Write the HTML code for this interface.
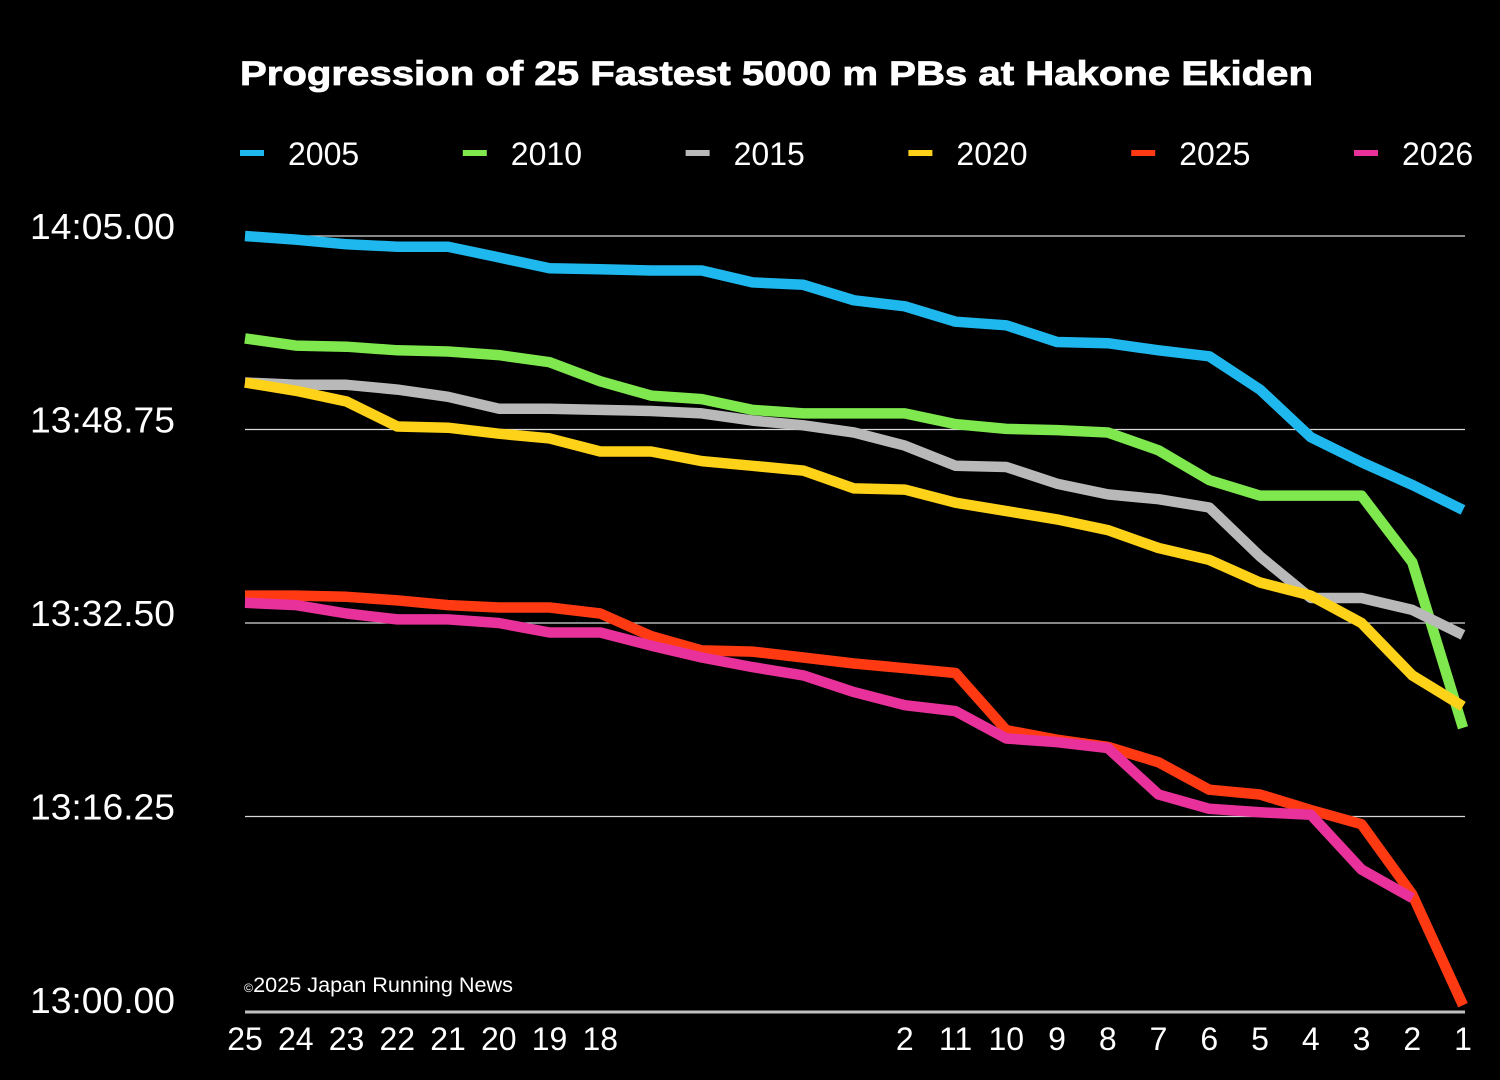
<!DOCTYPE html>
<html><head><meta charset="utf-8"><style>
html,body{margin:0;padding:0;background:#000;}
svg{display:block;font-family:"Liberation Sans",sans-serif;}
</style></head><body>
<svg id="chart" width="1500" height="1080" viewBox="0 0 1500 1080">
<rect width="1500" height="1080" fill="#000"/>
<text x="240" y="85" fill="#fff" font-size="34" font-weight="bold" stroke="#fff" stroke-width="0.8" textLength="1073" lengthAdjust="spacingAndGlyphs">Progression of 25 Fastest 5000 m PBs at Hakone Ekiden</text>
<g id="legend"></g>
<g id="grid"></g>
<g id="series"></g>
<g id="xaxis"></g>
<text x="244" y="992" fill="#fff" font-size="21" textLength="269" lengthAdjust="spacingAndGlyphs"><tspan font-size="12">©</tspan>2025 Japan Running News</text>
</svg>
<script>
// ranks 25 -> 1 ; values = seconds above 13:00.00
const ranks = ["25","24","23","22","21","20","19","18","17","16","15","14","13","12","11","10","9","8","7","6","5","4","3","2","1"];
const xTickLabels = ["25","24","23","22","21","20","19","18","","","","","","2","11","10","9","8","7","6","5","4","3","2","1"];
const yTicks = [0, 16.25, 32.5, 48.75, 65];
const yTickLabels = ["13:00.00","13:16.25","13:32.50","13:48.75","14:05.00"];
const seriesNames = ["2005","2010","2015","2020","2025","2026"];
const seriesColors = ["#1fb8ee","#7ee84e","#b9b9b9","#ffd21a","#ff3a12","#e8319a"];
const s2005 = [65.0,64.7,64.3,64.1,64.1,63.2,62.3,62.2,62.1,62.1,61.1,60.9,59.6,59.1,57.8,57.5,56.1,56.0,55.4,54.9,52.1,48.1,46.0,44.1,42.0];
const s2010 = [56.4,55.8,55.7,55.4,55.3,55.0,54.4,52.8,51.6,51.3,50.4,50.1,50.1,50.1,49.2,48.8,48.7,48.5,47.0,44.5,43.2,43.2,43.2,37.6,23.7];
const s2015 = [52.7,52.5,52.5,52.1,51.5,50.5,50.5,50.4,50.3,50.1,49.5,49.1,48.5,47.4,45.7,45.6,44.2,43.3,42.9,42.2,38.1,34.6,34.6,33.6,31.5];
const s2020 = [52.7,52.0,51.1,49.0,48.9,48.4,48.0,46.9,46.9,46.1,45.7,45.3,43.8,43.7,42.6,41.9,41.2,40.3,38.8,37.8,35.9,34.8,32.5,28.1,25.5];
const s2025 = [34.8,34.8,34.7,34.4,34.0,33.8,33.8,33.3,31.4,30.2,30.1,29.6,29.1,28.7,28.3,23.5,22.7,22.1,20.8,18.5,18.1,16.8,15.6,9.7,0.4];
const s2026 = [34.2,34.0,33.3,32.8,32.8,32.5,31.7,31.7,30.6,29.6,28.8,28.1,26.7,25.6,25.1,22.8,22.5,22.0,18.1,16.9,16.6,16.4,11.8,9.4,null];
const allSeries = [s2005,s2010,s2015,s2020,s2025,s2026];

const NS="http://www.w3.org/2000/svg";
const X0=245, X1=1463, Y0=1010, Y1=236, VMAX=65;
function xs(i){return X0+(X1-X0)*i/(ranks.length-1);}
function ys(v){return Y0-(Y0-Y1)*v/VMAX;}
function mk(tag,attrs,parent){const e=document.createElementNS(NS,tag);for(const k in attrs)e.setAttribute(k,attrs[k]);parent.appendChild(e);return e;}

const grid=document.getElementById('grid');
yTicks.forEach((v,i)=>{
  if(i>0){const l=mk('line',{x1:245,x2:1465,y1:ys(v),y2:ys(v),stroke:'#d8d8d8','stroke-width':1.2},grid);
  
  }
  const t=mk('text',{x:30,y:ys(v)+3,fill:'#fff','font-size':36,textLength:145,lengthAdjust:'spacingAndGlyphs'},grid);
  
  
  t.textContent=yTickLabels[i];
});
const xa=document.getElementById('xaxis');
const base=mk('line',{x1:245,x2:1465,y1:1012,y2:1012,stroke:'#c0c0c0','stroke-width':3},xa);


xTickLabels.forEach((lab,i)=>{
  const t=mk('text',{x:xs(i),y:1050,fill:'#fff','font-size':32,'text-anchor':'middle'},xa);
  
  
  t.textContent=lab;
});
const sg=document.getElementById('series');
allSeries.forEach((arr,si)=>{
  const pts=[];
  arr.forEach((v,i)=>{if(v!==null)pts.push(xs(i).toFixed(1)+','+ys(v).toFixed(1));});
  const p=mk('polyline',{points:pts.join(' '),fill:'none',stroke:seriesColors[si],'stroke-width':10.5,'stroke-linejoin':'round'},sg);
  
  
});
const lg=document.getElementById('legend');
seriesNames.forEach((n,i)=>{
  const x=240+i*222.8;
  const g=mk('g',{},lg);
  
  
  mk('line',{x1:x,x2:x+24,y1:153,y2:153,stroke:seriesColors[i],'stroke-width':6},g);
  const t=mk('text',{x:x+48,y:165,fill:'#fff','font-size':32},g);
  t.textContent=n;
});
</script>
</body></html>
